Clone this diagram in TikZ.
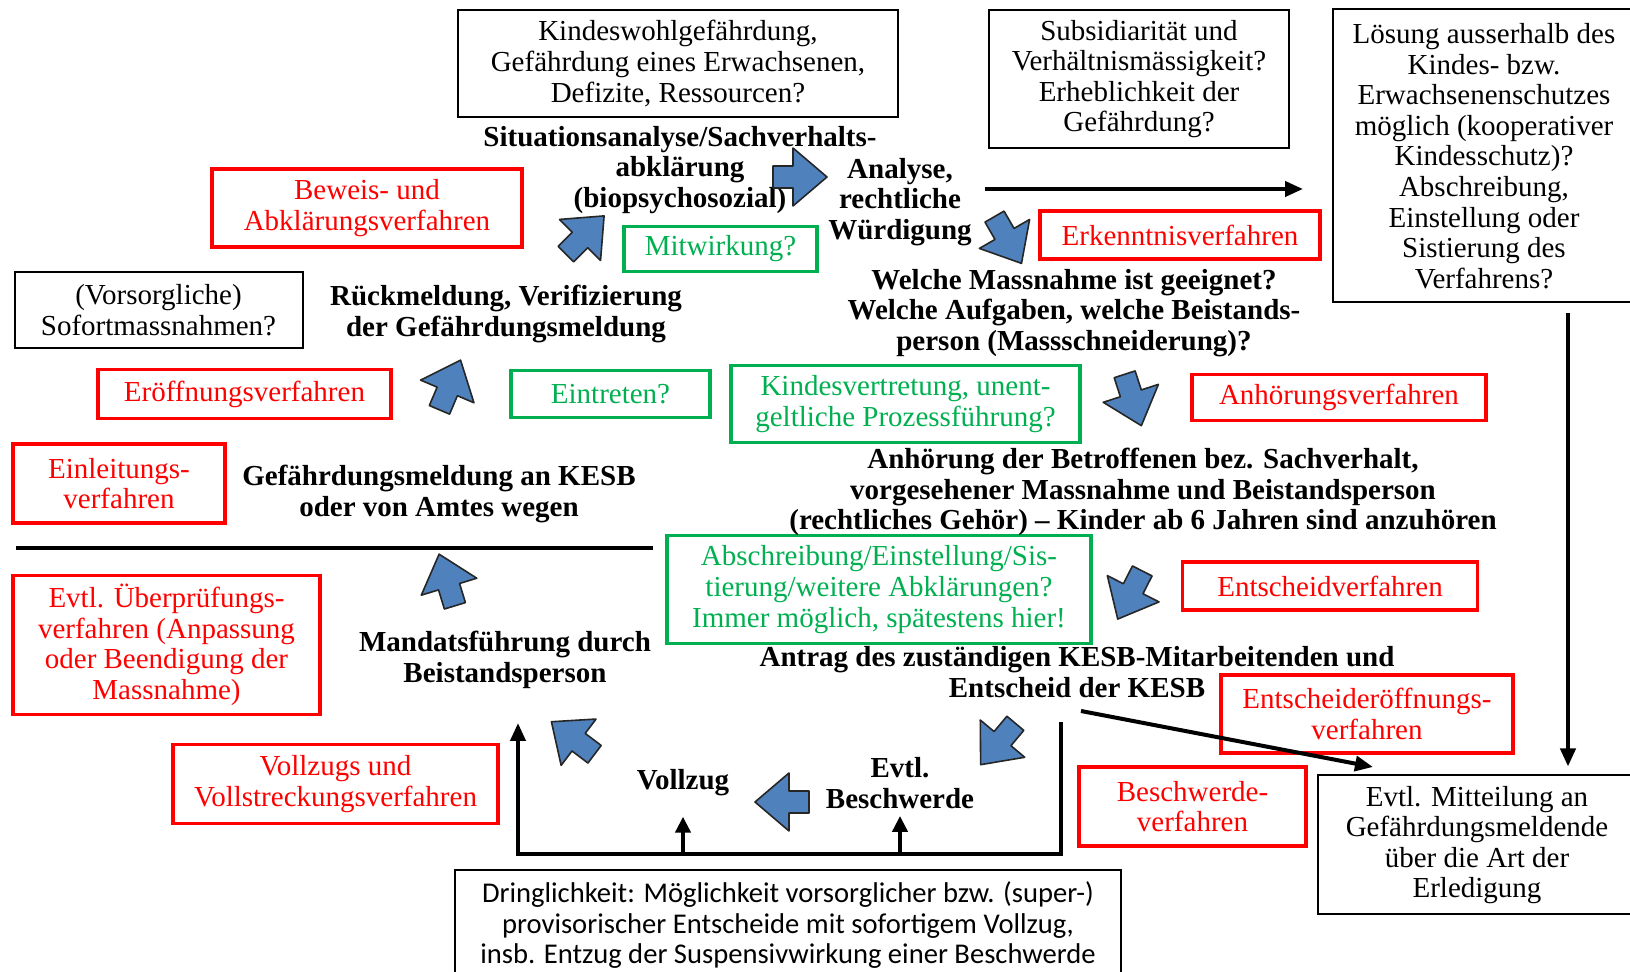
\documentclass[tikz,border=0pt]{standalone}
\usepackage{fontspec}
\setmainfont{Liberation Serif}
\newfontfamily\calibrifont{Carlito}
\usepackage{tikz}
\usetikzlibrary{arrows.meta}
\definecolor{kesbred}{RGB}{255,0,0}
\definecolor{kesbgreen}{RGB}{0,176,80}
\definecolor{kesbblue}{RGB}{79,129,189}

\tikzset{
    blockarrow/.pic = {
        \draw [fill = kesbblue, draw = black!85, line width = .8pt, line join = round]
            (-27,-11) -- (-7,-11) -- (-7,-29) -- (27,0) -- (-7,29) -- (-7,11) -- (-27,11) -- cycle;
    },
}

\begin{document}
\begin{tikzpicture}
    [
        x = .5pt, y = -.5pt,
        font = \fontsize{14.5}{15.3}\selectfont,
        blackbox/.style = {draw = black, line width = 1pt, align = center, inner sep = 0pt},
        redbox/.style = {draw = kesbred, line width = 1.6pt, text = kesbred, align = center, inner sep = 0pt},
        greenbox/.style = {draw = kesbgreen, line width = 1.6pt, text = kesbgreen, align = center, inner sep = 0pt},
        steptext/.style = {font = \fontsize{14.5}{15.3}\selectfont\bfseries, align = center, inner sep = 0pt},
        flow/.style = {line width = 2pt, -{Triangle[length = 9pt, width = 7.5pt]}},
        flowsmall/.style = {line width = 2pt, -{Triangle[length = 8pt, width = 7.5pt]}}
    ]
    \useasboundingbox (0,0) rectangle (1630,972);

    % Draw the question boxes:
    \node [blackbox, minimum width = 220pt, minimum height = 53.5pt] (Kindeswohl) at (678,63.5)
        {Kindeswohlgefährdung,\\Gefährdung eines Erwachsenen,\\Defizite, Ressourcen?};
    \node [blackbox, minimum width = 150pt, minimum height = 69pt] (Subsidiaritaet) at (1139,79)
        {Subsidiarität und\\Verhältnismässigkeit?\\Erheblichkeit der\\Gefährdung?};
    \node [blackbox, minimum width = 151pt, minimum height = 146.5pt] (Loesung) at (1484,156)
        {Lösung ausserhalb des\\Kindes- bzw.\\Erwachsenenschutzes\\möglich (kooperativer\\Kindesschutz)?\\Abschreibung,\\Einstellung oder\\Sistierung des\\Verfahrens?};
    \node [blackbox, minimum width = 144pt, minimum height = 38pt] (Vorsorglich) at (158.5,310)
        {(Vorsorgliche)\\Sofortmassnahmen?};
    \node [blackbox, minimum width = 159pt, minimum height = 69.5pt] (Mitteilung) at (1477,845)
        {Evtl. Mitteilung an\\Gefährdungsmeldende\\über die Art der\\Erledigung};
    \node [blackbox, anchor = north, minimum width = 333pt, inner ysep = 6pt, text depth = 44pt,
           font = \calibrifont\fontsize{14.3}{15.2}\selectfont] (Dringlichkeit) at (788,869)
        {Dringlichkeit: Möglichkeit vorsorglicher bzw. (super-)\\provisorischer Entscheide mit sofortigem Vollzug,\\insb. Entzug der Suspensivwirkung einer Beschwerde};

    % Draw the procedure boxes:
    \node [redbox, minimum width = 155pt, minimum height = 39pt] (Beweis) at (367,208)
        {Beweis- und\\Abklärungsverfahren};
    \node [redbox, minimum width = 140pt, minimum height = 24pt] (Erkenntnis) at (1180,235)
        {Erkenntnisverfahren};
    \node [redbox, minimum width = 146.5pt, minimum height = 24.5pt] (Eroeffnung) at (244.5,394)
        {Eröffnungsverfahren};
    \node [redbox, minimum width = 147pt, minimum height = 23pt] (Anhoerung) at (1339,397.5)
        {Anhörungsverfahren};
    \node [redbox, minimum width = 106pt, minimum height = 39.5pt] (Einleitung) at (119,483.5)
        {Einleitungs-\\verfahren};
    \node [redbox, minimum width = 147.5pt, minimum height = 24pt] (Entscheid) at (1330,586)
        {Entscheidverfahren};
    \node [redbox, minimum width = 153.5pt, minimum height = 69.5pt] (Ueberpruefung) at (166.5,645)
        {Evtl. Überprüfungs-\\verfahren (Anpassung\\oder Beendigung der\\Massnahme)};
    \node [redbox, minimum width = 146pt, minimum height = 39pt] (Entscheideroeffnung) at (1367,714)
        {Entscheideröffnungs-\\verfahren};
    \node [redbox, minimum width = 162.5pt, minimum height = 39.5pt] (Vollzugsverfahren) at (335.5,784)
        {Vollzugs und\\Vollstreckungsverfahren};
    \node [redbox, minimum width = 113.5pt, minimum height = 39.5pt] (Beschwerdeverfahren) at (1192.5,806.5)
        {Beschwerde-\\verfahren};

    % Draw the green checks:
    \node [greenbox, minimum width = 96.5pt, minimum height = 22.5pt] (Mitwirkung) at (720.5,249)
        {Mitwirkung?};
    \node [greenbox, minimum width = 99.5pt, minimum height = 23.5pt] (Eintreten) at (610.5,394)
        {Eintreten?};
    \node [greenbox, minimum width = 174.5pt, minimum height = 38.5pt] (Kindesvertretung) at (905.5,404)
        {Kindesvertretung, unent-\\geltliche Prozessführung?};
    \node [greenbox, minimum width = 212pt, minimum height = 54pt] (Abschreibung) at (879,589.5)
        {Abschreibung/Einstellung/Sis-\\tierung/weitere Abklärungen?\\Immer möglich, spätestens hier!};

    % Draw the steps of the procedure:
    \node [steptext] (Situation) at (680,170) {Situationsanalyse/Sachverhalts-\\abklärung\\(biopsychosozial)};
    \node [steptext] (Analyse) at (900,202) {Analyse,\\rechtliche\\Würdigung};
    \node [steptext] (Welche) at (1074,313) {Welche Massnahme ist geeignet?\\Welche Aufgaben, welche Beistands-\\person (Massschneiderung)?};
    \node [steptext] (Rueckmeldung) at (506,314) {Rückmeldung, Verifizierung\\der Gefährdungsmeldung};
    \node [steptext] (Meldung) at (439,494) {Gefährdungsmeldung an KESB\\oder von Amtes wegen};
    \node [steptext] (Anhoerungtext) at (1143,492) {Anhörung der Betroffenen bez. Sachverhalt,\\vorgesehener Massnahme und Beistandsperson\\(rechtliches Gehör) -- Kinder ab 6 Jahren sind anzuhören};
    \node [steptext] (Mandat) at (505,660) {Mandatsführung durch\\Beistandsperson};
    \node [steptext] (Antrag) at (1077,672) {Antrag des zuständigen KESB-Mitarbeitenden und\\Entscheid der KESB};
    \node [steptext] (Vollzug) at (683,783) {Vollzug};
    \node [steptext] (Beschwerde) at (900,783) {Evtl.\\Beschwerde};

    % Draw the cycle arrows:
    \foreach \x/\y/\angle in {800/177/0, 585/235/45, 1008/240/-60, 1133/400/-72, 1130/595/-117,
                              998/744/-130, 782/802/180, 573/738/143, 447/580/107, 450/385/67}
        \pic [rotate = \angle] at (\x,\y) {blockarrow};

    % Draw the connectors:
    \coordinate (TopStart) at (985,189);
    \coordinate (RightRail) at (1568,0);
    \coordinate (DiagStart) at (1081,711);
    \coordinate (DiagEnd) at (1373,767);
    \coordinate (BracketTop) at (1061,722);
    \coordinate (BaseR) at (1061,854);
    \coordinate (BaseL) at (518,854);
    \coordinate (MandatIn) at (518,723);

    \draw [flow, shorten >= 14.5pt] (TopStart) -- (TopStart -| Loesung.west);
    \draw [flow, shorten <= 5pt, shorten >= 4pt] (Loesung.south -| RightRail) -- (Mitteilung.north -| RightRail);
    \draw [flow] (DiagStart) -- (DiagEnd);
    \draw [flow] (BracketTop) -- (BaseR) -- (BaseL) -- (MandatIn);
    \draw [flowsmall, shorten >= 10pt] (Vollzug |- BaseL) -- (Vollzug.south);
    \draw [flowsmall, shorten >= 3.5pt] (Beschwerde |- BaseL) -- (Beschwerde.south);

    % Draw the separator:
    \draw [line width = 2pt] (16,548) -- (653,548);
\end{tikzpicture}
\end{document}
